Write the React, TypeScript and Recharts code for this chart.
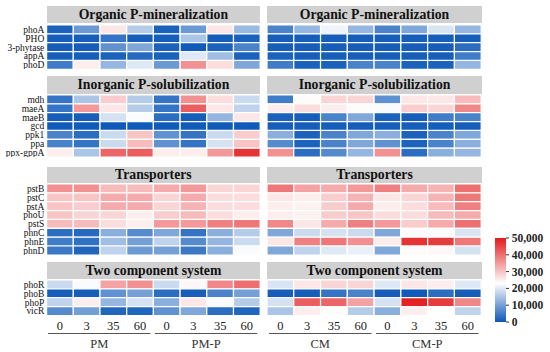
import React from "react";
import { BarChart, Bar, XAxis, YAxis, Cell } from "recharts";

// ---------- data ----------
const dayLabels = ["0", "3", "35", "60"];
const treatments = ["PM", "PM-P", "CM", "CM-P"];
const groupTitles = [
  "Organic P-mineralization",
  "Inorganic P-solubilization",
  "Transporters",
  "Two component system",
];
const colorbarTicks = [0, 10000, 20000, 30000, 40000, 50000];

const organicGenes = ["phoA", "PHO", "3-phytase", "appA", "phoD"];
const organicPM = [
  [1500, 9000, 26000, 16000, 1500, 9000, 26000, 13500],
  [1000, 1000, 4000, 1000, 1000, 15000, 1000, 1500],
  [1000, 1000, 8000, 11000, 1500, 500, 1500, 6000],
  [1000, 1000, 1500, 2500, 1500, 20000, 14000, 1500],
  [5000, 25000, 13000, 20000, 9000, 36000, 27000, 11000],
];
const organicCM = [
  [6000, 13000, 21500, 13000, 6000, 11000, 19500, 13000],
  [1000, 1000, 1000, 1000, 1000, 1000, 1000, 1000],
  [1000, 1000, 1000, 1000, 1000, 1000, 1000, 3000],
  [1500, 1000, 1000, 1000, 1000, 1000, 1000, 5000],
  [5000, 1500, 1500, 6000, 6000, 1500, 1500, 13000],
];

const inorganicGenes = ["mdh", "maeA", "maeB", "gcd", "ppk1", "ppa", "ppx-gppA"];
const inorganicPM = [
  [4000, 15000, 29000, 16000, 4000, 36000, 27000, 18000],
  [4000, 35000, 26000, 16000, 4000, 42000, 26000, 17000],
  [1000, 1000, 19000, 22500, 3000, 1000, 13000, 26000],
  [500, 500, 500, 500, 500, 500, 500, 500],
  [6000, 3000, 18000, 30000, 8000, 4000, 18000, 29000],
  [6000, 4000, 18000, 31000, 8000, 4000, 19000, 30000],
  [25000, 15000, 41000, 42000, 25000, 25000, 35000, 47000],
];
const inorganicCM = [
  [5000, 23500, 28000, 28000, 8000, 26000, 26000, 31000],
  [25000, 27000, 25000, 23500, 22500, 29000, 28000, 37000],
  [1500, 1000, 6000, 11000, 1500, 1000, 5000, 6000],
  [1000, 1000, 1000, 1000, 1000, 1000, 1000, 1000],
  [12000, 1500, 6000, 11000, 12000, 1500, 6000, 11000],
  [7000, 1500, 6000, 11000, 8000, 1500, 6000, 12000],
  [36000, 3000, 7000, 13000, 36000, 3000, 12000, 13000],
];

const transporterGenes = ["pstB", "pstC", "pstA", "phoU", "pstS", "phnC", "phnE", "phnD"];
const transporterPM = [
  [36000, 36000, 31000, 31000, 33000, 35000, 28000, 28000],
  [30000, 30000, 33000, 33000, 28000, 33000, 27000, 27000],
  [30000, 29000, 33000, 33000, 28000, 32000, 27000, 27000],
  [30000, 28000, 28000, 25000, 29000, 31000, 27000, 25000],
  [31000, 31000, 27000, 25000, 35000, 35000, 38000, 39000],
  [3000, 2500, 12000, 7000, 11000, 4000, 12000, 16000],
  [5000, 3500, 14000, 10000, 17000, 7000, 13000, 18000],
  [4500, 2000, 17000, 9000, 10000, 4500, 12000, 22500],
];
const transporterCM = [
  [39000, 34000, 33000, 35000, 38000, 33000, 32000, 40000],
  [26000, 25000, 29000, 32000, 26000, 28000, 32000, 39000],
  [25000, 24500, 29000, 33000, 25000, 27000, 31000, 38000],
  [25000, 24500, 29000, 30000, 27000, 27000, 31000, 33000],
  [37000, 26000, 33000, 38000, 35000, 29000, 33000, 40000],
  [11000, 18000, 19000, 18000, 11000, 22500, 22500, 19500],
  [26000, 38000, 39000, 36000, 25000, 47000, 46000, 39000],
  [11000, 17000, 20000, 21000, 11000, 23500, 24000, 19000],
];

const twoCompGenes = ["phoR", "phoB", "phoP", "vicR"];
const twoCompPM = [
  [18000, 22500, 34000, 36000, 18000, 24000, 37000, 40000],
  [1000, 1000, 8000, 10000, 3000, 1000, 6000, 10000],
  [17000, 25000, 13000, 19000, 12000, 26000, 22500, 16000],
  [7000, 10000, 2000, 2000, 8000, 11000, 3000, 2000],
];
const twoCompCM = [
  [19500, 26000, 28000, 28000, 20000, 26000, 25000, 20000],
  [1000, 1000, 4000, 6000, 1000, 500, 3000, 1000],
  [19000, 42000, 41000, 34000, 19000, 49000, 46000, 37000],
  [15000, 25000, 23500, 16000, 12000, 25000, 23000, 17000],
];

// ---------- styling / layout ----------
const SERIF = '"Liberation Serif", "Times New Roman", serif';
const BLUE = [11, 87, 183];
const WHITE = [255, 255, 255];
const RED = [227, 26, 28];
const MID = 23000;
const MAX = 50000;

function mix(a: number[], b: number[], t: number) {
  const c = a.map((v, i) => Math.round(v + (b[i] - v) * t));
  return `rgb(${c[0]},${c[1]},${c[2]})`;
}
function heat(v: number) {
  if (v <= MID) return mix(BLUE, WHITE, Math.max(0, v / MID));
  return mix(WHITE, RED, Math.min(1, (v - MID) / (MAX - MID)));
}

const ROW_H = 8.86;
const LEFT_X = 46.6;
const LEFT_W = 213.6;
const RIGHT_X = 267.4;
const RIGHT_W = 214.2;
const Y_AXIS_W = LEFT_X;
const X_AXIS_H = 24;
const COLS = [0, 1, 2, 3, 4, 5, 6, 7];
const COL_TICKS = COLS.map((c) => c + 0.5);

const blocks = [
  { title: groupTitles[0], genes: organicGenes, left: organicPM, right: organicCM, headerTop: 6, headerH: 17, rowsTop: 25 },
  { title: groupTitles[1], genes: inorganicGenes, left: inorganicPM, right: inorganicCM, headerTop: 76, headerH: 17.5, rowsTop: 95 },
  { title: groupTitles[2], genes: transporterGenes, left: transporterPM, right: transporterCM, headerTop: 166.5, headerH: 16, rowsTop: 184 },
  { title: groupTitles[3], genes: twoCompGenes, left: twoCompPM, right: twoCompCM, headerTop: 262, headerH: 17, rowsTop: 280 },
];

function Panel(props: {
  genes: string[];
  values: number[][];
  x: number;
  top: number;
  width: number;
  showY: boolean;
  showX: boolean;
}) {
  const { genes, values, x, top, width, showY, showX } = props;
  const data = genes.map((g) => {
    const row: any = { gene: g };
    COLS.forEach((c) => (row["c" + c] = 1));
    return row;
  });
  const yW = showY ? Y_AXIS_W : 0;
  const h = genes.length * ROW_H + (showX ? X_AXIS_H : 0);
  return (
    <div style={{ position: "absolute", left: x - yW, top }}>
      <BarChart
        layout="vertical"
        width={yW + width}
        height={h}
        data={data}
        margin={{ top: 0, right: 0, bottom: 0, left: 0 }}
        barCategoryGap={0}
        barGap={0}
      >
        <XAxis
          type="number"
          domain={[0, 8]}
          hide={!showX}
          ticks={COL_TICKS}
          interval={0}
          tickFormatter={(v: number) => dayLabels[Math.floor(v) % 4]}
          axisLine={false}
          tickLine={false}
          tickSize={3}
          tickMargin={3}
          height={X_AXIS_H}
          tick={{ fontSize: 12.5, fill: "#222", fontFamily: SERIF }}
        />
        <YAxis
          type="category"
          dataKey="gene"
          hide={!showY}
          width={yW}
          axisLine={false}
          tickLine={false}
          tickSize={0}
          tickMargin={2.3}
          interval={0}
          tick={{ fontSize: 9.5, fill: "#111", fontFamily: SERIF }}
        />
        {COLS.map((c) => (
          <Bar
            key={c}
            dataKey={"c" + c}
            stackId="s"
            isAnimationActive={false}
            stroke="#ffffff"
            strokeWidth={1.2}
          >
            {values.map((row, r) => (
              <Cell key={r} fill={heat(row[c])} />
            ))}
          </Bar>
        ))}
      </BarChart>
    </div>
  );
}

function Header(props: { title: string; x: number; top: number; width: number; height: number }) {
  const { title, x, top, width, height } = props;
  return (
    <div
      style={{
        position: "absolute",
        left: x,
        top,
        width,
        height,
        background: "#d0d0d0",
        color: "#111",
        fontFamily: SERIF,
        fontWeight: "bold",
        fontSize: 13.7,
        lineHeight: height + "px",
        textAlign: "center",
        whiteSpace: "nowrap",
      }}
    >
      {title}
    </div>
  );
}

function ColorBar() {
  const data = [{ name: "scale", v: MAX }];
  const whiteOffset = 1 - MID / MAX;
  return (
    <div style={{ position: "absolute", left: 495, top: 230.3 }}>
      <BarChart
        width={56}
        height={100}
        data={data}
        margin={{ top: 8, right: 0, bottom: 8, left: 0 }}
        barCategoryGap={0}
      >
        <defs>
          <linearGradient id="cbarGrad" x1="0" y1="0" x2="0" y2="1">
            <stop offset="0" stopColor={mix(RED, RED, 0)} />
            <stop offset={whiteOffset} stopColor="#ffffff" />
            <stop offset="1" stopColor={mix(BLUE, BLUE, 0)} />
          </linearGradient>
        </defs>
        <XAxis dataKey="name" hide />
        <YAxis
          orientation="right"
          type="number"
          domain={[0, MAX]}
          ticks={colorbarTicks}
          interval={0}
          width={45}
          axisLine={false}
          tickLine={{ stroke: "#333" }}
          tickSize={3}
          tickMargin={2.7}
          tickFormatter={(v: number) => v.toLocaleString("en-US")}
          tick={{ fontSize: 11.5, fill: "#222", fontFamily: SERIF, fontWeight: "bold" }}
        />
        <Bar dataKey="v" fill="url(#cbarGrad)" isAnimationActive={false} />
      </BarChart>
    </div>
  );
}

export default function App() {
  const halves = [
    { x: LEFT_X, w: LEFT_W },
    { x: RIGHT_X, w: RIGHT_W },
  ];
  const groups = treatments.map((t, i) => {
    const half = halves[Math.floor(i / 2)];
    const qw = half.w / 2;
    const x0 = half.x + (i % 2) * qw;
    return { label: t, x1: x0 + 1.5, x2: x0 + qw - 3 };
  });
  return (
    <div
      style={{
        position: "absolute",
        left: 0,
        top: 0,
        width: 550,
        height: 352,
        background: "#fff",
        overflow: "hidden",
        fontFamily: SERIF,
      }}
    >
      {blocks.map((b, bi) => (
        <React.Fragment key={bi}>
          <Header title={b.title} x={LEFT_X} top={b.headerTop} width={LEFT_W} height={b.headerH} />
          <Header title={b.title} x={RIGHT_X} top={b.headerTop} width={RIGHT_W} height={b.headerH} />
          <Panel
            genes={b.genes}
            values={b.left}
            x={LEFT_X}
            top={b.rowsTop}
            width={LEFT_W}
            showY={true}
            showX={bi === blocks.length - 1}
          />
          <Panel
            genes={b.genes}
            values={b.right}
            x={RIGHT_X}
            top={b.rowsTop}
            width={RIGHT_W}
            showY={false}
            showX={bi === blocks.length - 1}
          />
        </React.Fragment>
      ))}
      <svg
        width={550}
        height={352}
        style={{ position: "absolute", left: 0, top: 0, pointerEvents: "none" }}
      >
        {groups.map((g) => (
          <line key={g.label} x1={g.x1} x2={g.x2} y1={333.5} y2={333.5} stroke="#555" strokeWidth={1} />
        ))}
      </svg>
      {groups.map((g) => (
        <div
          key={g.label}
          style={{
            position: "absolute",
            left: (g.x1 + g.x2) / 2 - 40,
            width: 80,
            top: 336,
            height: 16,
            lineHeight: "16px",
            textAlign: "center",
            fontSize: 12.5,
            color: "#333",
            fontFamily: SERIF,
          }}
        >
          {g.label}
        </div>
      ))}
      <ColorBar />
    </div>
  );
}
